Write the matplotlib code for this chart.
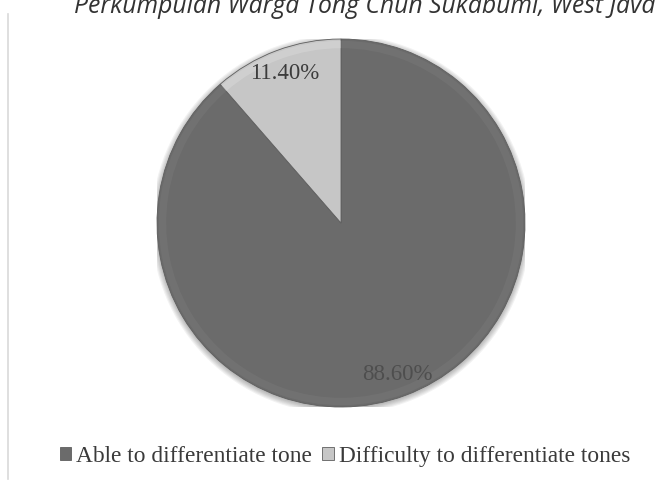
import matplotlib.pyplot as plt
from matplotlib.patches import Wedge

# доли ответов
labels = ['Able to differentiate tone', 'Difficulty to differentiate tones']
values = [88.6, 11.4]
colors = ['#6b6b6b', '#c6c6c6']
title = 'Perkumpulan Warga Tong Chun Sukabumi, West Java'

fig = plt.figure(figsize=(6.59, 4.85), dpi=100)
W, H = 659, 485

# оси под круг: центр (341, 224), радиус 184 px
cx, cy, r = 341, 224, 184
ax = fig.add_axes([(cx - r) / W, (H - cy - r) / H, 2 * r / W, 2 * r / H])

# мягкая тень вокруг круга
for k in range(6):
    ax.add_patch(plt.Circle((0.0, -0.008), 1.0 + 0.006 * k, color='#000000',
                            alpha=0.05, zorder=0, linewidth=0))

wedges, texts, autotexts = ax.pie(
    values, colors=colors, startangle=90, counterclock=False,
    autopct='%1.2f%%', pctdistance=0.875,
    wedgeprops=dict(edgecolor='#5e5e5e', linewidth=0.6),
    textprops=dict(family='Liberation Serif', fontsize=16.5))
autotexts[0].set_color('#4e4e4e')
autotexts[1].set_color('#3c3c3c')

# лёгкий объём по краю
for w, c in zip(wedges, ['#808080', '#e6e6e6']):
    rim = Wedge((0, 0), 0.99, w.theta1, w.theta2, width=0.04,
                facecolor=c, edgecolor='none', alpha=0.3, zorder=w.get_zorder() + 0.1)
    ax.add_patch(rim)
for t in autotexts:
    t.set_zorder(5)

ax.set_xlim(-1, 1)
ax.set_ylim(-1, 1)
ax.set_aspect('equal')
ax.axis('off')

# заголовок, срезанный сверху
fig.text(365 / W, 1 - 13 / H, title, ha='center', va='baseline',
         fontsize=17.8, style='italic', family='Open Sans', color='#333333')

# левая граница области диаграммы
fig.add_artist(plt.Line2D([8 / W, 8 / W], [0.01, 1 - 15 / H],
                          color='#d9d9d9', linewidth=1.2))

leg = fig.legend(wedges, labels, loc='center', bbox_to_anchor=(345 / W, 1 - 457 / H),
                 ncol=2, frameon=False, handlelength=0.5, handleheight=0.5,
                 handletextpad=0.2, columnspacing=0.45,
                 prop=dict(family='Liberation Serif', size=16.8))
for t in leg.get_texts():
    t.set_color('#3a3a3a')

fig.savefig('out.png', dpi=100)
